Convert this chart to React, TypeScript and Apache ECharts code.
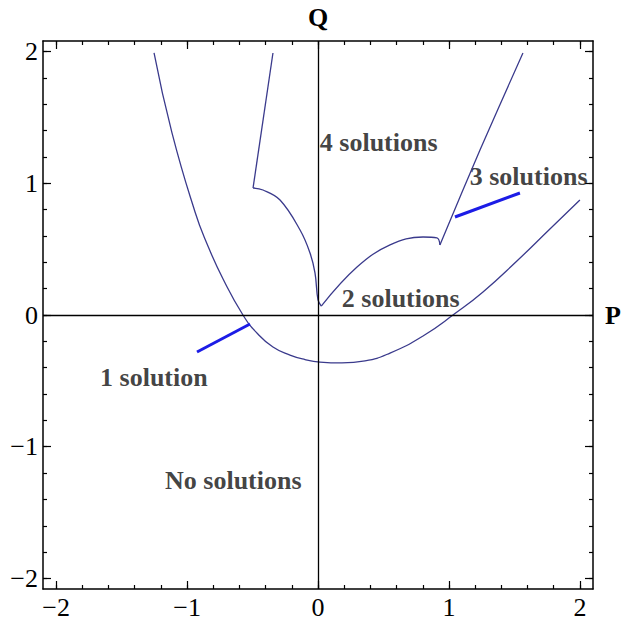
import React, { useEffect, useRef } from "react";
import * as echarts from "echarts";

// Axis ticks
const majorTicks = [-2, -1, 0, 1, 2];
const minorTicks = [
  -2.0, -1.8, -1.6, -1.4, -1.2, -1.0, -0.8, -0.6, -0.4, -0.2, 0, 0.2, 0.4, 0.6, 0.8, 1.0, 1.2, 1.4,
  1.6, 1.8, 2.0,
];

// Outer (parabola-like) boundary curve: [P, Q]
const outerCurve: [number, number][] = [
  [-1.252, 1.989],
  [-1.115, 1.382],
  [-0.939, 0.782],
  [-0.847, 0.539],
  [-0.725, 0.273],
  [-0.573, 0.0],
  [-0.466, -0.137],
  [-0.344, -0.243],
  [-0.214, -0.304],
  [-0.099, -0.338],
  [0.015, -0.357],
  [0.183, -0.364],
  [0.359, -0.349],
  [0.55, -0.289],
  [0.802, -0.159],
  [1.046, 0.011],
  [1.26, 0.175],
  [1.519, 0.41],
  [1.771, 0.653],
  [2.0, 0.873],
];

// Cusped boundary curve, in four branches between cusps: [P, Q]
const cuspBranchLeft: [number, number][] = [
  [-0.496, 0.964],
  [-0.344, 1.989],
];
const cuspBranchMidLeft: [number, number][] = [
  [-0.496, 0.964],
  [-0.42, 0.949],
  [-0.29, 0.873],
  [-0.137, 0.645],
  [-0.061, 0.471],
  [-0.023, 0.319],
  [0.0, 0.114],
  [0.025, 0.068],
];
const cuspBranchMidRight: [number, number][] = [
  [0.025, 0.068],
  [0.298, 0.364],
  [0.55, 0.532],
  [0.802, 0.592],
  [0.908, 0.585],
  [0.931, 0.532],
];
const cuspBranchRight: [number, number][] = [
  [0.931, 0.532],
  [1.237, 1.253],
  [1.565, 1.989],
];

// Pointer lines for annotations
const pointerOne: [number, number][] = [
  [-0.924, -0.281],
  [-0.519, -0.068],
];
const pointerThree: [number, number][] = [
  [1.046, 0.744],
  [1.542, 0.926],
];

// Region labels: anchor (left, middle) in data coordinates
const regionLabels = [
  { name: "4 solutions", value: [0.01, 1.306] },
  { name: "3 solutions", value: [1.155, 1.055] },
  { name: "2 solutions", value: [0.178, 0.129] },
  { name: "1 solution", value: [-1.668, -0.478] },
  { name: "No solutions", value: [-1.172, -1.26] },
];

const SERIF = "'Liberation Serif', 'Times New Roman', serif";
const CURVE_COLOR = "#3a3a8c";
const POINTER_COLOR = "#1c1ce6";

const fmt = (v: number) => (v < 0 ? "\u2212" + Math.abs(v) : String(v));

function makeX(position: "top" | "bottom", major: boolean, labels: boolean) {
  return {
    type: "value",
    position,
    min: -2.1,
    max: 2.1,
    splitLine: { show: false },
    axisLine: { show: major, onZero: false, lineStyle: { color: "#000", width: 1.5 } },
    axisTick: {
      show: true,
      inside: true,
      length: major ? 8 : 4,
      customValues: major ? majorTicks : minorTicks,
      lineStyle: { color: "#000", width: 1.2 },
    },
    axisLabel: {
      show: labels,
      customValues: majorTicks,
      formatter: fmt,
      fontFamily: SERIF,
      fontSize: 26,
      color: "#000",
      margin: 5,
    },
  };
}

function makeY(position: "left" | "right", major: boolean, labels: boolean) {
  return {
    type: "value",
    position,
    min: -2.08,
    max: 2.08,
    splitLine: { show: false },
    axisLine: { show: major, onZero: false, lineStyle: { color: "#000", width: 1.5 } },
    axisTick: {
      show: true,
      inside: true,
      length: major ? 8 : 4,
      customValues: major ? majorTicks : minorTicks,
      lineStyle: { color: "#000", width: 1.2 },
    },
    axisLabel: {
      show: labels,
      customValues: majorTicks,
      formatter: fmt,
      fontFamily: SERIF,
      fontSize: 26,
      color: "#000",
      margin: 5,
    },
  };
}

function curve(data: [number, number][], color: string, width: number, smooth: number | boolean) {
  return {
    type: "line",
    data,
    xAxisIndex: 0,
    yAxisIndex: 0,
    showSymbol: false,
    symbol: "none",
    smooth,
    silent: true,
    lineStyle: { color, width },
  };
}

export default function App() {
  const ref = useRef<HTMLDivElement>(null);
  useEffect(() => {
    if (!ref.current) return;
    const chart = echarts.init(ref.current, undefined, { renderer: "svg" });
    chart.setOption({
      animation: false,
      backgroundColor: "#fff",
      grid: { left: 43, right: 29, top: 41, bottom: 32 },
      xAxis: [
        makeX("bottom", true, true),
        makeX("bottom", false, false),
        makeX("top", true, false),
        makeX("top", false, false),
      ],
      yAxis: [
        makeY("left", true, true),
        makeY("left", false, false),
        makeY("right", true, false),
        makeY("right", false, false),
      ],
      series: [
        {
          ...curve(outerCurve, CURVE_COLOR, 1.3, 0.5),
          markLine: {
            silent: true,
            symbol: "none",
            animation: false,
            lineStyle: { color: "#000", width: 1.3, type: "solid" },
            data: [
              {
                xAxis: 0,
                label: {
                  show: true,
                  formatter: "Q",
                  position: "end",
                  distance: 11,
                  fontFamily: SERIF,
                  fontWeight: "bold",
                  fontSize: 26,
                  color: "#000",
                },
              },
              {
                yAxis: 0,
                label: {
                  show: true,
                  formatter: "P",
                  position: "end",
                  distance: 12,
                  fontFamily: SERIF,
                  fontWeight: "bold",
                  fontSize: 26,
                  color: "#000",
                },
              },
            ],
          },
        },
        curve(cuspBranchLeft, CURVE_COLOR, 1.3, false),
        curve(cuspBranchMidLeft, CURVE_COLOR, 1.3, 0.4),
        curve(cuspBranchMidRight, CURVE_COLOR, 1.3, 0.4),
        curve(cuspBranchRight, CURVE_COLOR, 1.3, 0.3),
        curve(pointerOne, POINTER_COLOR, 3, false),
        curve(pointerThree, POINTER_COLOR, 3, false),
        {
          type: "scatter",
          xAxisIndex: 0,
          yAxisIndex: 0,
          silent: true,
          symbolSize: 1,
          itemStyle: { color: "rgba(0,0,0,0)" },
          data: regionLabels,
          label: {
            show: true,
            formatter: "{b}",
            position: "right",
            distance: 0,
            fontFamily: SERIF,
            fontWeight: "bold",
            fontSize: 26,
            color: "#111",
          },
        },
      ],
    });
    return () => chart.dispose();
  }, []);
  return <div ref={ref} style={{ width: 622, height: 621, position: "absolute", left: 0, top: 0 }} />;
}
